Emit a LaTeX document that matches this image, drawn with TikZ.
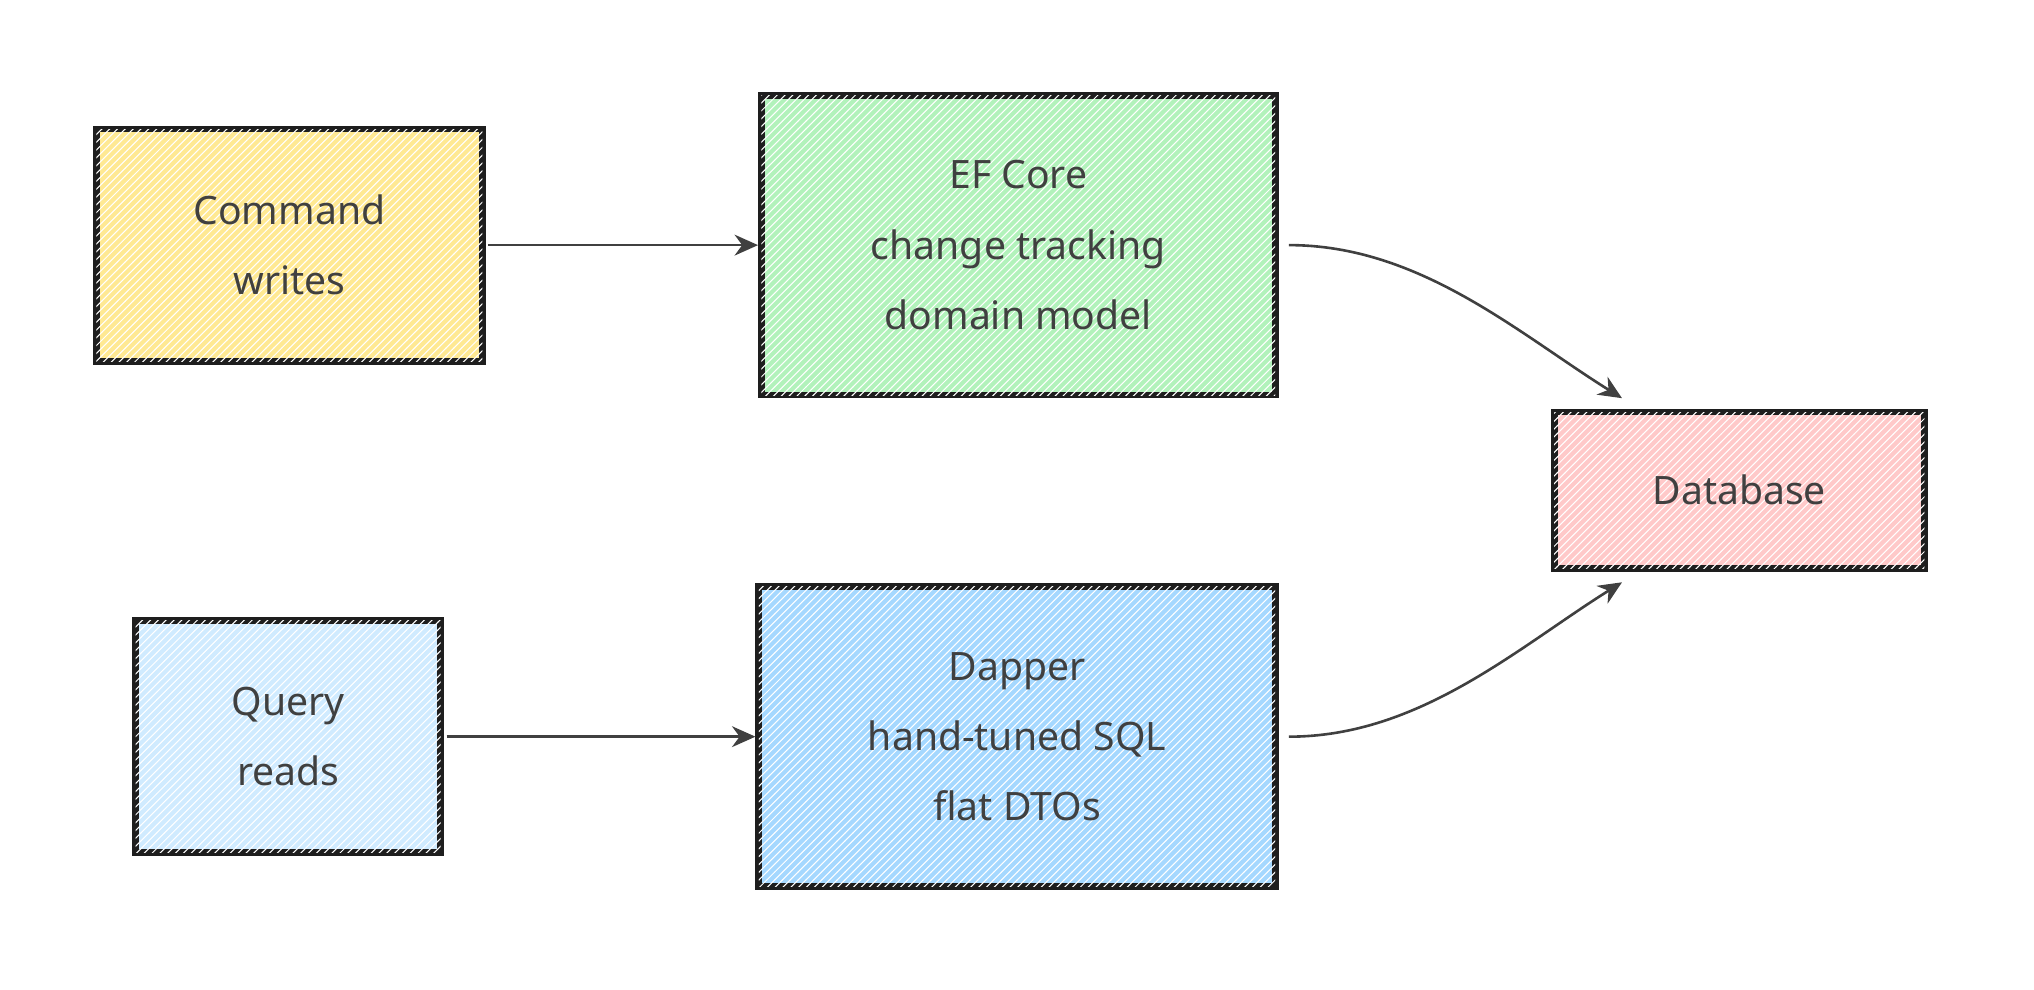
\documentclass[tikz,border=0pt]{standalone}
\usepackage{fontspec}
\setmainfont{Noto Sans}
\usetikzlibrary{positioning,arrows.meta,patterns}
\definecolor{cyellow}{HTML}{FFE993}
\definecolor{cgreen}{HTML}{B2F2BB}
\definecolor{cred}{HTML}{FFC9C9}
\definecolor{clblue}{HTML}{D0EBFF}
\definecolor{cblue}{HTML}{A5D8FF}
\definecolor{ink}{HTML}{1E1E1E}
\tikzset{
  box/.style={draw=ink, line width=2.6pt, align=center, font=\fontsize{15}{27}\selectfont,
    text=ink!85, inner sep=0pt,
    postaction={pattern=north east lines, pattern color=white}},
  link/.style={draw=ink!85, line width=1pt, -{Stealth[length=9pt,width=8pt]}}
}
\begin{document}
\begin{tikzpicture}[x=0.5pt,y=-0.5pt]
   \useasboundingbox (0,0) rectangle (1560,759);
   \node[box, fill=cyellow, minimum width=148pt, minimum height=89pt] (cmd) at (222,188) {Command\\writes};
   \node[box, fill=cgreen, minimum width=197pt, minimum height=115pt] (ef) at (781,188) {EF Core\\change tracking\\domain model};
   \node[box, fill=cred, minimum width=142pt, minimum height=60pt] (db) at (1334,376) {Database};
   \node[box, fill=clblue, minimum width=117pt, minimum height=89pt] (qry) at (221,565) {Query\\reads};
   \node[box, fill=cblue, minimum width=198pt, minimum height=115pt] (dap) at (780,565) {Dapper\\hand-tuned SQL\\flat DTOs};
   \draw[link] (cmd.east) ++(1pt,0) -- (ef.west);
   \draw[link] (qry.east) ++(1pt,0) -- (dap.west);
   \draw[link] (ef.east) ++(4pt,0) .. controls +(50pt,0) and +(-40pt,25pt) .. ([xshift=-45pt,yshift=4pt]db.north);
   \draw[link] (dap.east) ++(4pt,0) .. controls +(50pt,0) and +(-40pt,-25pt) .. ([xshift=-45pt,yshift=-4pt]db.south);
\end{tikzpicture}
\end{document}
